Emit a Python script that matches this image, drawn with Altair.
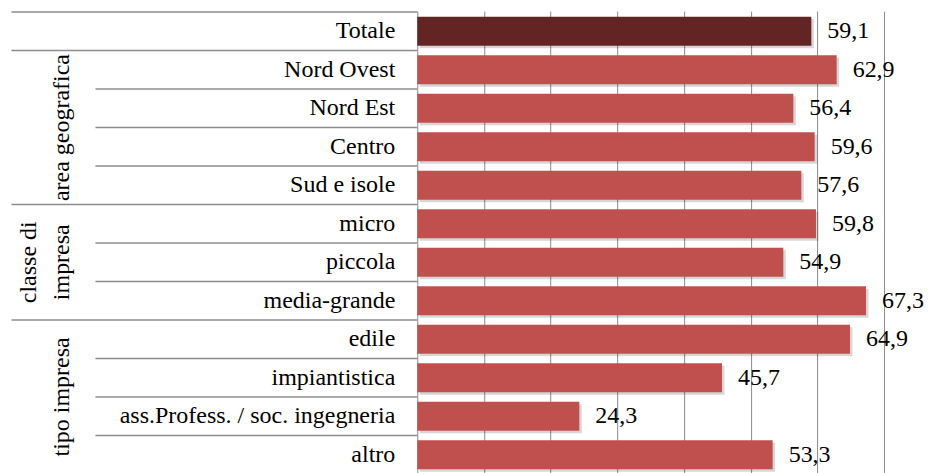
import altair as alt
import pandas as pd

categories = ["Totale", "Nord Ovest", "Nord Est", "Centro", "Sud e isole",
              "micro", "piccola", "media-grande",
              "edile", "impiantistica", "ass.Profess. / soc. ingegneria", "altro"]
values = [59.1, 62.9, 56.4, 59.6, 57.6, 59.8, 54.9, 67.3, 64.9, 45.7, 24.3, 53.3]
groups = ["", "area geografica", "area geografica", "area geografica", "area geografica",
          "classe di\nimpresa", "classe di\nimpresa", "classe di\nimpresa",
          "tipo impresa", "tipo impresa", "tipo impresa", "tipo impresa"]
grid_ticks = [0, 10, 20, 30, 40, 50, 60, 70]

value_labels = [f"{v:.1f}".replace(".", ",") for v in values]
is_total = [c == "Totale" for c in categories]
group_start = [i == 0 or groups[i] != groups[i - 1] for i in range(len(categories))]

df = pd.DataFrame({
    "cat": categories, "val": values, "lab": value_labels,
    "grp": groups, "total": is_total, "start": group_start,
})

grp_names = ["area geografica", "tipo impresa"]
grp_anchor = ["Centro", "ass.Profess. / soc. ingegneria"]
grp2_names = ["classe di\nimpresa"]
grp2_anchor = ["piccola"]
g1 = pd.DataFrame({"cat": grp_anchor, "grp": grp_names})
g2 = pd.DataFrame({"cat": grp2_anchor, "grp": grp2_names})

FONT = "Liberation Serif"
LINE = "#8c8c8c"
TXT = "#111111"

yscale = alt.Scale(domain=categories, range=[0, 462], paddingInner=0, paddingOuter=0)
xscale = alt.Scale(domain=[0, 77.5], nice=False)


def Y(bp=0.5):
    return alt.Y("cat:N", sort=categories, scale=yscale, axis=None, bandPosition=bp)


base = alt.Chart(df)

shadow = base.mark_bar(color="#000000", opacity=0.16, height=29, xOffset=2.5, yOffset=2.5).encode(
    x=alt.X("val:Q", scale=xscale,
            axis=alt.Axis(values=grid_ticks, grid=True, gridColor="#8a8a8a", gridWidth=1,
                          domain=False, ticks=False, labels=False, title=None)),
    y=Y(),
)

bars = base.mark_bar(height=29).encode(
    x=alt.X("val:Q", scale=xscale),
    y=Y(),
    color=alt.condition("datum.total", alt.value("#632523"), alt.value("#C0504D")),
)

vals = base.mark_text(align="left", baseline="middle", dx=16, font=FONT, fontSize=24).encode(
    x=alt.X("val:Q", scale=xscale),
    y=Y(),
    text="lab:N",
)

cat_text = base.mark_text(align="right", baseline="middle", font=FONT, fontSize=24).encode(
    x=alt.value(-22),
    y=Y(),
    text="cat:N",
)

outer_sep = base.transform_filter("datum.start").mark_rule(color=LINE, strokeWidth=1.5).encode(
    x=alt.value(-406), x2=alt.value(0), y=Y(0),
)
inner_sep = base.transform_filter("!datum.start").mark_rule(color=LINE, strokeWidth=1.5).encode(
    x=alt.value(-322), x2=alt.value(0), y=Y(0),
)

grp_text = alt.Chart(g1).mark_text(angle=270, align="center", baseline="middle", font=FONT,
                                   fontSize=24).encode(
    x=alt.value(-355), y=Y(0), text="grp:N",
)
grp2_text = alt.Chart(g2).mark_text(angle=270, align="center", baseline="middle", font=FONT,
                                    fontSize=24, lineBreak="\n", lineHeight=33).encode(
    x=alt.value(-388), y=Y(0.5), text="grp:N",
)

chart = alt.layer(shadow, bars, vals, cat_text, outer_sep, inner_sep, grp_text, grp2_text).properties(
    width=517, height=461,
    padding={"left": 2.5, "top": 3, "right": 0, "bottom": 0},
    view=alt.ViewBackground(strokeWidth=0),
)

chart.save("out.html", embed_options={"renderer": "svg", "actions": False})
